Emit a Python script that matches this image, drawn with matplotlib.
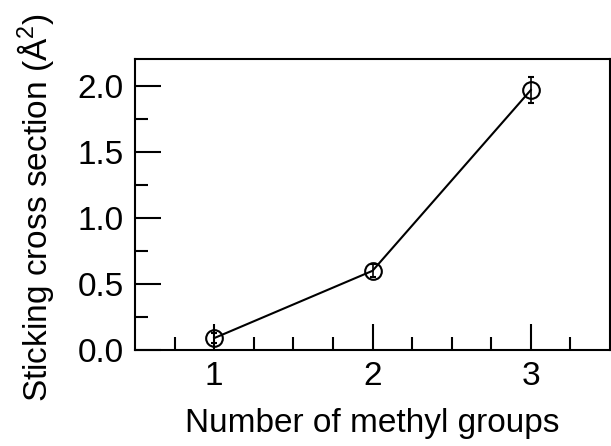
import matplotlib
matplotlib.use("Agg")
import matplotlib.pyplot as plt
from matplotlib.ticker import MultipleLocator, FormatStrFormatter

plt.rcParams['font.family'] = ['Liberation Sans', 'DejaVu Sans']
plt.rcParams['mathtext.fontset'] = 'custom'
plt.rcParams['mathtext.rm'] = 'Liberation Sans'

methyl_groups = [1, 2, 3]
cross_section = [0.09, 0.60, 1.97]
cross_section_err = [0.04, 0.05, 0.095]

fig = plt.figure(figsize=(6.11, 4.46), dpi=100)
ax = fig.add_axes([135 / 611, 1 - 350 / 446, 475 / 611, 291 / 446])

ax.errorbar(methyl_groups, cross_section, yerr=cross_section_err,
            color='black', lw=1.5, marker='o', ms=12, mfc='none',
            mec='black', mew=1.5, elinewidth=1.2, capsize=2.5, capthick=1.2)

ax.set_xlim(0.5, 3.5)
ax.set_ylim(0, 2.205)
ax.set_xticks([1, 2, 3], labels=['1', '2', '3'])
ax.set_xticks([0.75, 1.25, 1.5, 1.75, 2.25, 2.5, 2.75, 3.25], minor=True)
ax.yaxis.set_major_locator(MultipleLocator(0.5))
ax.yaxis.set_minor_locator(MultipleLocator(0.25))
ax.yaxis.set_major_formatter(FormatStrFormatter('%.1f'))

# long ticks at the half-way x positions too
for t in ax.xaxis.get_minor_ticks():
    if abs(t.get_loc() - 1.5) < 1e-6 or abs(t.get_loc() - 2.5) < 1e-6:
        t.tick1line.set_markersize(19)

ax.tick_params(axis='both', which='major', direction='in', length=19,
               width=1.5, labelsize=24, pad=8)
ax.tick_params(axis='both', which='minor', direction='in', length=9.5,
               width=1.5)

for s in ax.spines.values():
    s.set_linewidth(1.5)

ax.set_xlabel('Number of methyl groups', fontsize=24)
ax.xaxis.set_label_coords(0.5, -0.2)
ax.set_ylabel('Sticking cross section (Å$^2$)', fontsize=24)
ax.yaxis.set_label_coords(-0.165, 0.49)

fig.savefig('out.png', dpi=100)
